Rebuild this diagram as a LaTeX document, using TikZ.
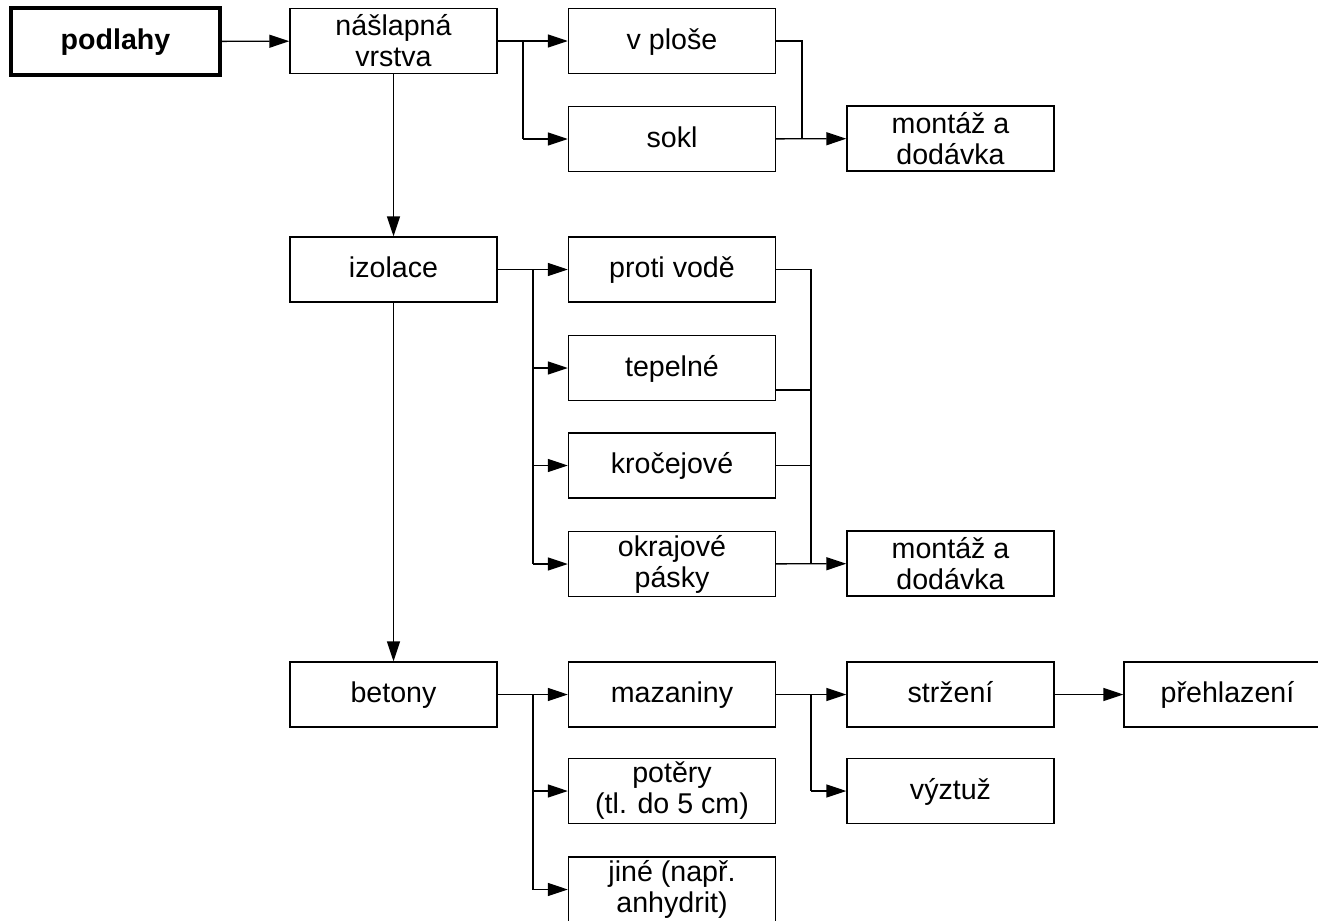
\documentclass[tikz,border=0pt]{standalone}
\usepackage{fontspec}
\setmainfont{Liberation Sans}
\usetikzlibrary{arrows.meta}

\begin{document}
\begin{tikzpicture}[x=0.5pt,y=-0.5pt,
	box/.style={draw,line width=0.7pt,minimum width=103.5pt,minimum height=32.5pt,inner sep=0pt,align=center,font=\fontsize{14.3}{15.5}\selectfont},
	one/.style={text height=11pt,text depth=3pt},
	arr/.style={-{Triangle[length=10pt,width=6.5pt]},line width=0.7pt},
	lin/.style={line width=0.7pt}]
	\useasboundingbox (0,0) rectangle (1318,921);
	\node[box,one,line width=1.6pt,minimum width=104.5pt,minimum height=33.5pt,font=\fontsize{14.3}{15.5}\selectfont\bfseries] (podlahy) at (115.5,41.5) {podlahy};
	\node[box] (nasl) at (393.5,41) {nášlapná\\vrstva};
	\node[box,one] (vplose) at (672,41) {v ploše};
	\node[box,one] (sokl) at (672,139) {sokl};
	\node[box] (montazA) at (950.5,138.5) {montáž a\\dodávka};
	\node[box,one] (izolace) at (393.5,269.5) {izolace};
	\node[box,one] (protivode) at (672,269.5) {proti vodě};
	\node[box,one] (tepelne) at (672,368) {tepelné};
	\node[box,one] (krocejove) at (672,465.5) {kročejové};
	\node[box] (okrajove) at (672,564) {okrajové\\pásky};
	\node[box] (montazB) at (950.5,563.5) {montáž a\\dodávka};
	\node[box,one] (betony) at (393.5,694.5) {betony};
	\node[box,one] (mazaniny) at (672,694.5) {mazaniny};
	\node[box,one] (strzeni) at (950.5,694.5) {stržení};
	\node[box,one] (prehlazeni) at (1227.5,694.5) {přehlazení};
	\node[box,one] (vyztuz) at (950.5,791) {výztuž};
	\node[box] (potery) at (672,791) {potěry\\(tl. do 5 cm)};
	\node[box] (jine) at (672,889.5) {jiné (např.\\anhydrit)};

	\coordinate (b1) at (523,41);
	\coordinate (m1) at (802,139);
	\coordinate (b2) at (533,269.5);
	\coordinate (m2) at (811,564);
	\coordinate (b3) at (533,694.5);
	\coordinate (b4) at (811,694.5);
	\coordinate (t1) at ([yshift=-11pt]tepelne.east);

	\draw[arr] (podlahy) -- (nasl);
	\draw[arr] (nasl) -- (vplose);
	\draw[lin] (b1) -- (b1 |- sokl);
	\draw[arr] (b1 |- sokl) -- (sokl);
	\draw[lin] (vplose.east) -| (m1);
	\draw[arr] (sokl) -- (montazA);
	\draw[arr] (nasl) -- (izolace);
	\draw[arr] (izolace) -- (betony);

	\draw[arr] (izolace) -- (protivode);
	\draw[lin] (b2) -- (b2 |- okrajove);
	\draw[arr] (b2 |- tepelne) -- (tepelne);
	\draw[arr] (b2 |- krocejove) -- (krocejove);
	\draw[arr] (b2 |- okrajove) -- (okrajove);
	\draw[lin] (protivode.east) -| (m2);
	\draw[lin] (t1) -- (t1 -| m2);
	\draw[lin] (krocejove.east) -- (krocejove -| m2);
	\draw[arr] (okrajove) -- (montazB);

	\draw[arr] (betony) -- (mazaniny);
	\draw[lin] (b3) -- (b3 |- jine);
	\draw[arr] (b3 |- potery) -- (potery);
	\draw[arr] (b3 |- jine) -- (jine);
	\draw[arr] (mazaniny) -- (strzeni);
	\draw[lin] (b4) -- (b4 |- vyztuz);
	\draw[arr] (b4 |- vyztuz) -- (vyztuz);
	\draw[arr] (strzeni) -- (prehlazeni);
\end{tikzpicture}
\end{document}
